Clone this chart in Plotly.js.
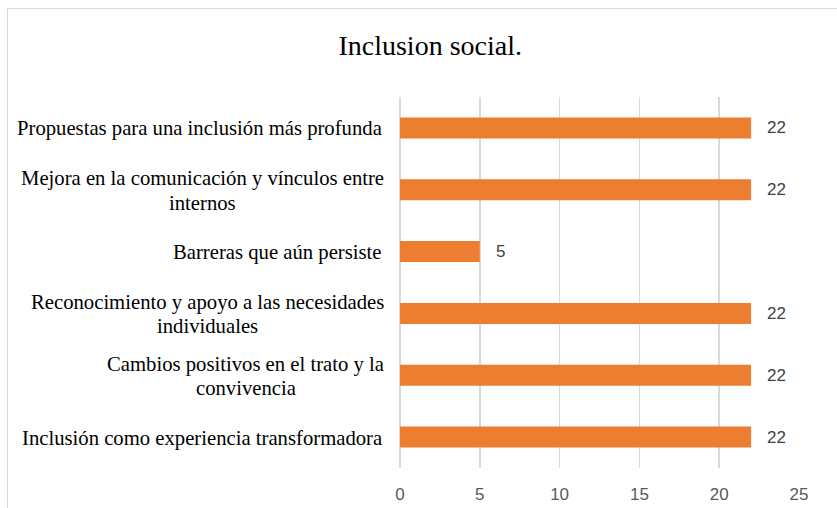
<!DOCTYPE html>
<html>
<head>
<meta charset="utf-8">
<script src="https://cdn.plot.ly/plotly-3.0.1.min.js"></script>
<style>
html,body{margin:0;padding:0;background:#fff;overflow:hidden;}
#frame{position:absolute;left:7px;top:8px;width:900px;height:600px;border:1.5px solid #d9d9d9;box-sizing:border-box;}
#chart{position:absolute;left:0;top:0;width:837px;height:508px;}
</style>
</head>
<body>
<div id="frame"></div>
<div id="chart"></div>
<script>
const title = "Inclusion social.";
const categories = [
  "Propuestas para una inclusión más profunda",
  "Mejora en la comunicación y vínculos entre<br>internos",
  "Barreras que aún persiste",
  "Reconocimiento y apoyo a las necesidades<br>individuales",
  "Cambios positivos en el trato y la<br>convivencia",
  "Inclusión como experiencia transformadora"
];
const values = [22, 22, 5, 22, 22, 22];
const tickValues = [0, 5, 10, 15, 20, 25];

const serif = "Liberation Serif, Times New Roman, serif";
const sans = "Liberation Sans, Arial, sans-serif";
const lineGap = 24;
const labelSize = 20.7;
const labelEdge = -0.04;

const catAnn = [];
categories.forEach(c => {
  const lines = c.split("<br>");
  const n = lines.length;
  lines.forEach((ln, j) => {
    catAnn.push({
      text: ln, xref: "paper", yref: "y", x: labelEdge, y: c,
      xanchor: n > 1 ? "center" : "right", yanchor: "middle", showarrow: false,
      yshift: ((n - 1) / 2 - j) * lineGap - 1,
      font: {family: serif, size: labelSize, color: "#000"}
    });
  });
});
const valAnn = values.map((v, i) => ({
  text: String(v), xref: "x", yref: "y", x: v, y: categories[i],
  xanchor: "left", yanchor: "middle", xshift: 14, showarrow: false,
  font: {family: sans, size: 17, color: "#404040"}
}));

Plotly.newPlot("chart", [{
  type: "bar", orientation: "h", x: values, y: categories,
  marker: {color: "#ED7D31"}, width: 0.34, hoverinfo: "none"
}], {
  width: 837, height: 508,
  paper_bgcolor: "rgba(0,0,0,0)", plot_bgcolor: "rgba(0,0,0,0)",
  margin: {l: 400, r: 38, t: 97, b: 40},
  title: {text: title, xref: "container", x: 0.514, xanchor: "center",
          yref: "container", y: 0.911, yanchor: "middle",
          font: {family: serif, size: 28, color: "#000"}},
  xaxis: {range: [0, 25], tickvals: tickValues, ticktext: tickValues.map(String),
          showgrid: true, gridcolor: "#d9d9d9", gridwidth: 1.5,
          zeroline: true, zerolinecolor: "#d9d9d9", zerolinewidth: 1.5,
          showline: false, ticks: "", ticklabelstandoff: 14,
          tickfont: {family: sans, size: 17, color: "#595959"}, fixedrange: true},
  yaxis: {autorange: "reversed", showticklabels: false, showgrid: false,
          zeroline: false, showline: false, ticks: "", fixedrange: true},
  annotations: catAnn.concat(valAnn),
  showlegend: false
}, {displayModeBar: false, staticPlot: true}).then(gd => {
  // multi-line labels: lines centered on the widest line, whose right edge sits at the label edge
  const ctx = document.createElement("canvas").getContext("2d");
  ctx.font = labelSize + "px " + serif;
  const edgePx = 400 + labelEdge * 399;
  const anns = gd.layout.annotations.map(a => Object.assign({}, a));
  categories.forEach(c => {
    const lines = c.split("<br>");
    if (lines.length < 2) return;
    const w = Math.max(...lines.map(l => ctx.measureText(l).width));
    const centerPx = edgePx - w / 2;
    anns.forEach(a => {
      if (a.xref === "paper" && a.y === c) a.x = (centerPx - 400) / 399;
    });
  });
  return Plotly.relayout(gd, {annotations: anns});
});
</script>
</body>
</html>
